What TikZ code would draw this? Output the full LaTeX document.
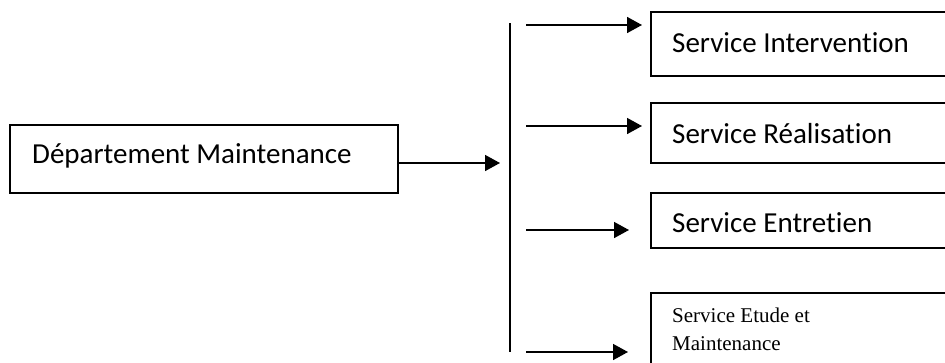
\documentclass[tikz,border=0pt]{standalone}
\usepackage{fontspec}
\setmainfont{Carlito}[Ligatures=CommonOff]
\newfontfamily\serifface{Liberation Serif}
\usetikzlibrary{arrows.meta}
\begin{document}
\begin{tikzpicture}[x=1pt,y=-1pt,
  frame/.style={draw=black, line width=1.6pt, rectangle, inner sep=0pt},
  lbl/.style={anchor=base west, inner sep=0pt, font=\fontsize{29}{34}\selectfont},
  small/.style={anchor=base west, inner sep=0pt, font=\serifface\fontsize{21}{28}\selectfont},
  link/.style={line width=1.6pt, -{Triangle[length=15pt,width=16pt]}},
  trunk/.style={line width=1.8pt}]
\useasboundingbox (0,0) rectangle (945,362);
\clip (0,0) rectangle (945,362);

% boxes
\node[frame, minimum width=388pt, minimum height=68pt] (dept) at (204,159) {};
\node[frame, minimum width=309pt, minimum height=64pt] (b1) at (805.5,44) {};
\node[frame, minimum width=309pt, minimum height=60pt] (b2) at (805.5,133) {};
\node[frame, minimum width=309pt, minimum height=55pt] (b3) at (805.5,220.5) {};
\node[frame, minimum width=309pt, minimum height=90pt] (b4) at (805.5,338) {};

% labels
\node[lbl] (tdept) at (32,163) {Département Maintenance};
\node[lbl] (t1) at (672,52) {Service Intervention};
\node[lbl] (t2) at (672,143) {Service Réalisation};
\node[lbl] (t3) at (672,232) {Service Entretien};
\node[small] (t4a) at (672,322) {Service Etude et};
\node[small] (t4b) at (672,350) {Maintenance};

% distribution bar
\coordinate (top) at (510,23);
\coordinate (bot) at (510,352);
\draw[trunk] (top) -- (bot);

% feed arrow
\coordinate (j0) at (500,163);
\draw[link] ([yshift=-4pt]dept.east) -- (j0);

% branch arrows
\coordinate (s1) at (526,25);  \coordinate (e1) at (642,25);
\coordinate (s2) at (526,126); \coordinate (e2) at (642,126);
\coordinate (s3) at (526,230); \coordinate (e3) at (629,230);
\coordinate (s4) at (526,352); \coordinate (e4) at (628,352);
\draw[link] (s1) -- (e1);
\draw[link] (s2) -- (e2);
\draw[link] (s3) -- (e3);
\draw[link] (s4) -- (e4);
\end{tikzpicture}
\end{document}
